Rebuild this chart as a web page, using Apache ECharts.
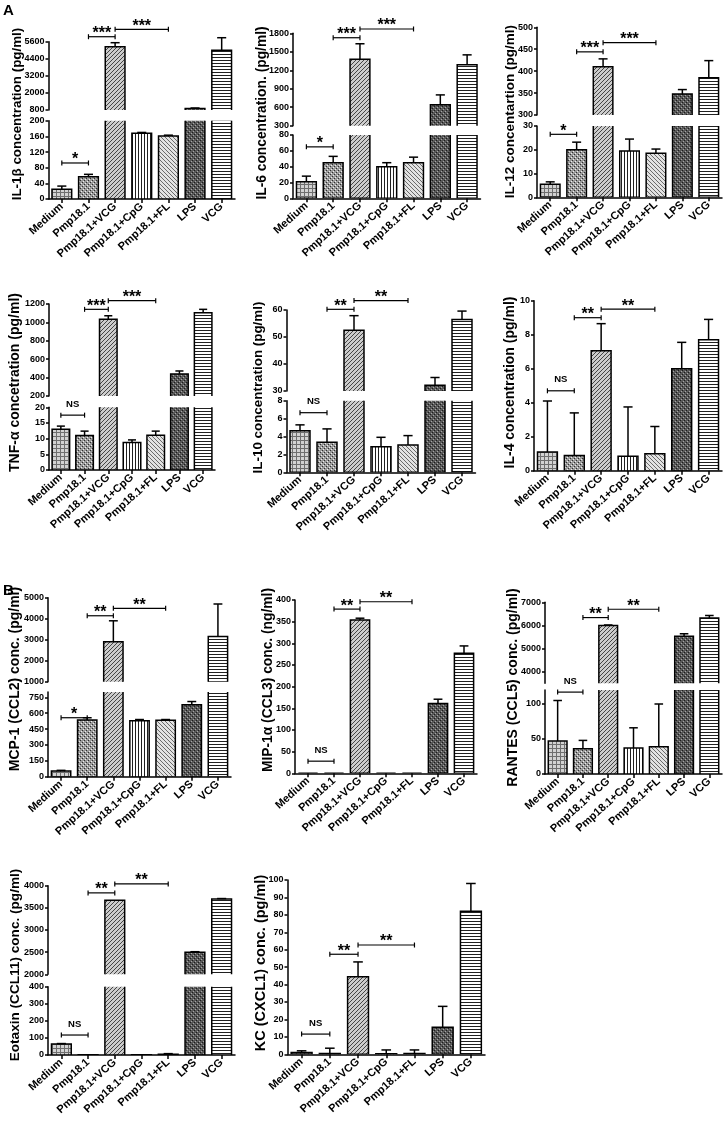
<!DOCTYPE html>
<html>
<head>
<meta charset="utf-8">
<script src="https://cdn.jsdelivr.net/npm/echarts@6/dist/echarts.min.js"></script>
<style>
  html, body { margin: 0; padding: 0; background: #fff; }
  #main { width: 726px; height: 1130px; }
</style>
</head>
<body>
<div id="main"></div>
<script>
const FONT = '"Liberation Sans", Arial, Helvetica, sans-serif';

const categories = ['Medium', 'Pmp18.1', 'Pmp18.1+VCG', 'Pmp18.1+CpG', 'Pmp18.1+FL', 'LPS', 'VCG'];

// bar heights (mean) and upper error (SEM)
const il1bMean = [25, 57, 5250, 168, 161, 900, 5000];
const il1bSem = [8, 6, 280, 2, 2, 40, 880];
const il6Mean = [21, 45, 1380, 40, 45, 640, 1290];
const il6Sem = [7, 8, 250, 5, 7, 160, 160];
const il12Mean = [5.5, 20, 410, 19.5, 18.5, 348, 385];
const il12Sem = [1, 3.2, 18, 5, 1.8, 10, 39];
const tnfMean = [13, 11, 1034, 8.8, 11.1, 440, 1105];
const tnfSem = [1, 1.4, 38, 0.8, 1.3, 32, 37];
const il10Mean = [4.65, 3.35, 52.5, 2.86, 3.05, 32.1, 56.5];
const il10Sem = [0.65, 1.5, 5.4, 1.05, 1.05, 2.9, 3.1];
const il4Mean = [1.1, 0.9, 7.05, 0.85, 1.0, 6.0, 7.7];
const il4Sem = [3.0, 2.5, 1.6, 2.9, 1.6, 1.55, 1.2];
const mcp1Mean = [55, 535, 2900, 528, 532, 680, 3150];
const mcp1Sem = [5, 22, 1000, 12, 8, 30, 1550];
const mip1aMean = [0, 0, 354, 0, 0, 161, 277];
const mip1aSem = [0, 0, 4, 0, 0, 10, 17];
const rantesMean = [47, 36, 6000, 37, 39, 5530, 6320];
const rantesSem = [58, 12, 20, 29, 61, 110, 110];
const eotaxinMean = [64, 2, 3670, 2, 5, 2500, 3700];
const eotaxinSem = [3, 0, 0, 0, 3, 10, 10];
const kcMean = [1, 0.5, 44.5, 0.3, 0.5, 15.5, 82];
const kcSem = [1, 3, 8.5, 2.2, 2, 12, 16];

// significance brackets: [from category, to category, height, label]
const il1bSig = [[0, 1, 92, '*'], [1, 2, 5950, '***'], [2, 4, 6470, '***']];
const il6Sig = [[0, 1, 65, '*'], [1, 2, 1728, '***'], [2, 4, 1870, '***']];
const il12Sig = [[0, 1, 26.5, '*'], [1, 2, 444, '***'], [2, 4, 465, '***']];
const tnfSig = [[0, 1, 17.5, 'NS'], [1, 2, 1142, '***'], [2, 4, 1236, '***']];
const il10Sig = [[0, 1, 6.66, 'NS'], [1, 2, 60.25, '**'], [2, 4, 63.5, '**']];
const il4Sig = [[0, 1, 4.7, 'NS'], [1, 2, 9.0, '**'], [2, 4, 9.5, '**']];
const mcp1Sig = [[0, 1, 557, '*'], [1, 2, 4140, '**'], [2, 4, 4495, '**']];
const mip1aSig = [[0, 1, 28, 'NS'], [1, 2, 379, '**'], [2, 4, 396, '**']];
const rantesSig = [[0, 1, 117, 'NS'], [1, 2, 6340, '**'], [2, 4, 6700, '**']];
const eotaxinSig = [[0, 1, 117, 'NS'], [1, 2, 3838, '**'], [2, 4, 4040, '**']];
const kcSig = [[0, 1, 11.6, 'NS'], [1, 2, 57.4, '**'], [2, 4, 62.7, '**']];

// layout of every panel; broken axes are two stacked segments (top first)
const panels = [
  { title: 'IL-1β concentration (pg/ml)', mean: il1bMean, sem: il1bSem, sig: il1bSig,
    left: 48.5, right: 235, titleX: 17, titleY: 114, titleSize: 13.4,
    segs: [{ top: 41.7, bottom: 110, min: 800, max: 5600, interval: 1200 },
           { top: 120.7, bottom: 199, min: 0, max: 200, interval: 40 }] },
  { title: 'IL-6 concentration. (pg/ml)', mean: il6Mean, sem: il6Sem, sig: il6Sig,
    left: 293, right: 480.5, titleX: 262, titleY: 113, titleSize: 13.8,
    segs: [{ top: 33.3, bottom: 125.7, min: 300, max: 1800, interval: 300 },
           { top: 135, bottom: 198.3, min: 0, max: 80, interval: 20 }] },
  { title: 'IL-12 concentartion (pg/ml)', mean: il12Mean, sem: il12Sem, sig: il12Sig,
    left: 537, right: 722, titleX: 510, titleY: 111.7, titleSize: 13.5,
    segs: [{ top: 27.3, bottom: 115, min: 300, max: 500, interval: 50 },
           { top: 126, bottom: 197.3, min: 0, max: 30, interval: 10 }] },
  { title: 'TNF-α concetration (pg/ml)', mean: tnfMean, sem: tnfSem, sig: tnfSig,
    left: 49, right: 215, titleX: 15, titleY: 382.5, titleSize: 14,
    segs: [{ top: 304, bottom: 396, min: 200, max: 1200, interval: 200 },
           { top: 407.3, bottom: 470, min: 0, max: 20, interval: 5 }] },
  { title: 'IL-10 concentration (pg/ml)', mean: il10Mean, sem: il10Sem, sig: il10Sig,
    left: 286.5, right: 475.5, titleX: 258, titleY: 387.5, titleSize: 13.4,
    segs: [{ top: 310, bottom: 391, min: 30, max: 60, interval: 10 },
           { top: 400.7, bottom: 472.3, min: 0, max: 8, interval: 2 }] },
  { title: 'IL-4 concentration (pg/ml)', mean: il4Mean, sem: il4Sem, sig: il4Sig,
    left: 534, right: 722, titleX: 510, titleY: 382.5, titleSize: 14,
    segs: [{ top: 300.7, bottom: 470.7, min: 0, max: 10, interval: 2 }] },
  { title: 'MCP-1 (CCL2) conc. (pg/ml)', mean: mcp1Mean, sem: mcp1Sem, sig: mcp1Sig,
    left: 48, right: 231, titleX: 15, titleY: 679, titleSize: 14,
    segs: [{ top: 597.7, bottom: 681.7, min: 1000, max: 5000, interval: 1000 },
           { top: 692, bottom: 776.7, min: 0, max: 800, interval: 150, hideMax: true }] },
  { title: 'MIP-1α (CCL3) conc. (ng/ml)', mean: mip1aMean, sem: mip1aSem, sig: mip1aSig,
    left: 295, right: 477, titleX: 268, titleY: 680, titleSize: 13.8,
    segs: [{ top: 600, bottom: 773.3, min: 0, max: 400, interval: 50 }] },
  { title: 'RANTES (CCL5) conc. (pg/ml)', mean: rantesMean, sem: rantesSem, sig: rantesSig,
    left: 545, right: 722, titleX: 513, titleY: 687.5, titleSize: 14,
    segs: [{ top: 602.3, bottom: 683.3, min: 3500, max: 7000, snap: 1000, hideMin: true },
           { top: 690, bottom: 774, min: 0, max: 120, interval: 50, hideMax: true }] },
  { title: 'Eotaxin (CCL11) conc. (pg/ml)', mean: eotaxinMean, sem: eotaxinSem, sig: eotaxinSig,
    left: 48, right: 235, titleX: 15, titleY: 965, titleSize: 13.6,
    segs: [{ top: 885.7, bottom: 974.3, min: 2000, max: 4000, interval: 500 },
           { top: 986.7, bottom: 1055, min: 0, max: 400, interval: 100 }] },
  { title: 'KC (CXCL1) conc. (pg/ml)', mean: kcMean, sem: kcSem, sig: kcSig,
    left: 287.5, right: 485, titleX: 261, titleY: 963, titleSize: 14.5,
    segs: [{ top: 880, bottom: 1054.3, min: 0, max: 100, interval: 10 }] }
];

function makePattern(kind) { // small tiled canvases for the hatched bars
  const c = document.createElement('canvas');
  const n = (kind === 'vert' || kind === 'horiz') ? 3 : 4;
  c.width = n; c.height = n;
  const ctx = c.getContext('2d');
  const bg = col => { ctx.fillStyle = col; ctx.fillRect(0, 0, n, n); };
  const dot = (x, y, col) => { ctx.fillStyle = col; ctx.fillRect(x, y, 1, 1); };
  switch (kind) {
    case 'grid': bg('#d2d2d2'); ctx.fillStyle = '#6e6e6e'; ctx.fillRect(0, 0, n, 1); ctx.fillRect(0, 0, 1, n); break;
    case 'check': bg('#9a9a9a'); dot(0, 0, '#2e2e2e'); dot(2, 2, '#2e2e2e'); dot(1, 3, '#eeeeee'); dot(3, 1, '#eeeeee'); break;
    case 'fwd': bg('#cccccc'); for (let i = 0; i < n; i++) dot(i, n - 1 - i, '#454545'); break;
    case 'vert': bg('#ffffff'); ctx.fillStyle = '#202020'; ctx.fillRect(0, 0, 1, n); break;
    case 'back': bg('#e2e2e2'); for (let i = 0; i < n; i++) dot(i, i, '#6a6a6a'); break;
    case 'dark': bg('#585858'); dot(0, 0, '#1c1c1c'); dot(2, 2, '#1c1c1c'); dot(1, 3, '#a6a6a6'); dot(3, 1, '#a6a6a6'); break;
    case 'horiz': bg('#ffffff'); ctx.fillStyle = '#202020'; ctx.fillRect(0, 0, n, 1); break;
  }
  return { image: c, repeat: 'repeat' };
}
const patterns = ['grid', 'check', 'fwd', 'vert', 'back', 'dark', 'horiz'].map(makePattern);

function renderBar(params, api) { // bar from 0 to the mean; the grid clip cuts it at the axis break
  const i = api.value(0);
  const w = api.size([1, 0])[0] * 0.74;
  const top = api.coord([i, api.value(1)]);
  const base = api.coord([i, 0]);
  return { type: 'rect', shape: { x: top[0] - w / 2, y: top[1], width: w, height: base[1] - top[1] },
    style: { fill: patterns[i], stroke: '#000', lineWidth: 1.5 } };
}

function renderErr(params, api) { // error bar: stem from bar top + cap
  const i = api.value(0);
  const base = api.coord([i, api.value(1)]);
  const top = api.coord([i, api.value(2)]);
  const half = api.size([1, 0])[0] * 0.17;
  const st = { stroke: '#000', lineWidth: 1.5 };
  return { type: 'group', children: [
    { type: 'line', shape: { x1: top[0], y1: base[1], x2: top[0], y2: top[1] }, style: st },
    { type: 'line', shape: { x1: top[0] - half, y1: top[1], x2: top[0] + half, y2: top[1] }, style: st }
  ] };
}

function makeSigRender(labels) { // |----| bracket with its label above
  return function (params, api) {
    const a = api.coord([api.value(0), api.value(2)]);
    const b = api.coord([api.value(1), api.value(2)]);
    const lab = labels[params.dataIndex];
    const ns = lab === 'NS';
    const st = { stroke: '#000', lineWidth: 1.2 };
    return { type: 'group', children: [
      { type: 'line', shape: { x1: a[0], y1: a[1], x2: b[0], y2: b[1] }, style: st },
      { type: 'line', shape: { x1: a[0], y1: a[1] - 2.5, x2: a[0], y2: a[1] + 2.5 }, style: st },
      { type: 'line', shape: { x1: b[0], y1: b[1] - 2.5, x2: b[0], y2: b[1] + 2.5 }, style: st },
      { type: 'text', style: { text: lab, x: (a[0] + b[0]) / 2, y: a[1] - (ns ? 11 : 3),
        textAlign: 'center', textVerticalAlign: 'middle', fill: '#000',
        font: ns ? 'bold 9.5px ' + FONT : 'bold 16px ' + FONT } }
    ] };
  };
}

const grids = [], xAxes = [], yAxes = [], series = [];
const graphics = [
  { type: 'text', x: 3, y: 3, style: { text: 'A', font: 'bold 15px ' + FONT, fill: '#000' } },
  { type: 'text', x: 3, y: 583, style: { text: 'B', font: 'bold 15px ' + FONT, fill: '#000' } }
];

panels.forEach(p => {
  const first = grids.length;
  p.segs.forEach((s, k) => {
    const gi = grids.length;
    const last = k === p.segs.length - 1;
    grids.push({ left: p.left, top: s.top, width: p.right - p.left, height: s.bottom - s.top, outerBoundsMode: 'none' });
    xAxes.push({
      type: 'category', gridIndex: gi, data: categories, show: last,
      axisLine: { show: true, lineStyle: { color: '#000', width: 1.5 } },
      axisTick: { show: true, alignWithLabel: true, length: 4, lineStyle: { color: '#000', width: 1.5 } },
      axisLabel: { interval: 0, rotate: 42, color: '#000', fontWeight: 'bold', fontSize: 11, fontFamily: FONT, margin: 6 }
    });
    const ya = {
      type: 'value', gridIndex: gi, min: s.min, max: s.max,
      axisLine: { show: true, lineStyle: { color: '#000', width: 1.5 } },
      axisTick: { show: true, length: 3, lineStyle: { color: '#000', width: 1.5 } },
      splitLine: { show: false },
      axisLabel: { color: '#000', fontWeight: 'bold', fontSize: 9, fontFamily: FONT, margin: 4,
        formatter: v => String(v), showMinLabel: !s.hideMin, showMaxLabel: !s.hideMax }
    };
    if (s.snap) { ya.minInterval = s.snap; ya.maxInterval = s.snap; } else { ya.interval = s.interval; }
    yAxes.push(ya);

    series.push({ type: 'custom', xAxisIndex: gi, yAxisIndex: gi, clip: true, silent: true,
      encode: { x: 0, y: 1 }, data: p.mean.map((v, i) => [i, v]), renderItem: renderBar });
  });

  // error bars and brackets go to the segment holding their height
  const segOf = v => p.segs.findIndex(s => v >= s.min);
  p.segs.forEach((s, k) => {
    const errData = [];
    p.mean.forEach((v, i) => { if (p.sem[i] > 0 && segOf(v) === k) errData.push([i, v, v + p.sem[i]]); });
    if (errData.length) {
      series.push({ type: 'custom', xAxisIndex: first + k, yAxisIndex: first + k, clip: false, silent: true,
        encode: { x: 0, y: [1, 2] }, data: errData, renderItem: renderErr });
    }
    const sigRows = p.sig.filter(b => segOf(b[2]) === k);
    if (sigRows.length) {
      series.push({ type: 'custom', xAxisIndex: first + k, yAxisIndex: first + k, clip: false, silent: true,
        encode: { x: [0, 1], y: 2 }, data: sigRows.map(b => [b[0], b[1], b[2]]),
        renderItem: makeSigRender(sigRows.map(b => b[3])) });
    }
  });

  graphics.push({ type: 'text', x: p.titleX, y: p.titleY, rotation: Math.PI / 2,
    style: { text: p.title, font: 'bold ' + p.titleSize + 'px ' + FONT, fill: '#000',
      textAlign: 'center', textVerticalAlign: 'middle' } });
});

const chart = echarts.init(document.getElementById('main'), null, { renderer: 'canvas' });
chart.setOption({
  animation: false,
  backgroundColor: '#fff',
  grid: grids,
  xAxis: xAxes,
  yAxis: yAxes,
  series: series,
  graphic: graphics
});
</script>
</body>
</html>
